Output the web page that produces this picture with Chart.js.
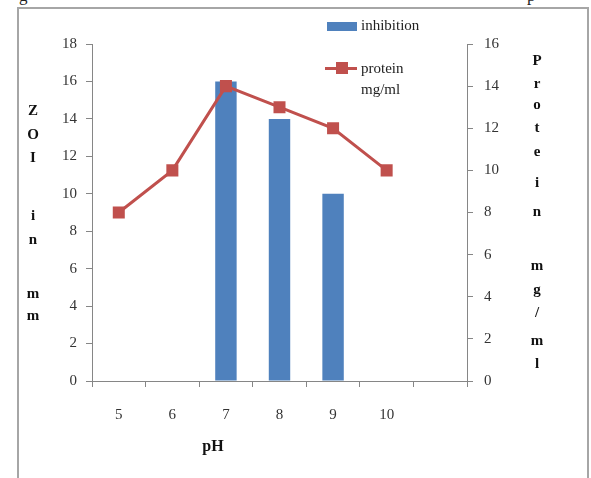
<!DOCTYPE html>
<html>
<head>
<meta charset="utf-8">
<script src="https://cdn.jsdelivr.net/npm/chart.js@4.4.1/dist/chart.umd.min.js"></script>
<style>
    body { margin: 0; background: #fff; }
    #wrap { position: relative; width: 591px; height: 478px; overflow: hidden; font-family: "Liberation Serif", "Times New Roman", serif; }
    #frame { position: absolute; left: 17px; top: 7px; width: 572px; height: 480px; border: 2px solid #a6a6a6; box-sizing: border-box; }
    canvas { position: absolute; left: 0; top: 0; }
    .lbl { position: absolute; font-size: 15px; color: #222; line-height: 1; }
    .ch { position: absolute; width: 20px; margin-left: -10px; text-align: center; font-weight: bold; font-size: 15px; line-height: 1; color: #111; }
</style>
</head>
<body>
<div id="wrap">
    <div id="frame"></div>
    <div class="lbl" style="left:19px; top:-13px; font-size:17px;">g</div>
    <div class="lbl" style="left:527px; top:-13px; font-size:17px;">p</div>
    <canvas id="phChart" width="591" height="478"></canvas>

    <!-- legend -->
    <div style="position:absolute; left:327px; top:22px; width:30px; height:9px; background:#4f81bd;"></div>
    <div class="lbl" style="left:361px; top:18px;">inhibition</div>
    <div style="position:absolute; left:325px; top:67px; width:32px; height:3px; background:#c0504d;"></div>
    <div style="position:absolute; left:336px; top:62px; width:12px; height:12px; background:#c0504d;"></div>
    <div class="lbl" style="left:361px; top:61px;">protein</div>
    <div class="lbl" style="left:361px; top:82px;">mg/ml</div>

    <div class="ch" style="left:213px; top:438px; font-size:16px; width:30px; margin-left:-15px;">pH</div>
</div>

<script>
// data
const phLabels = ['5', '6', '7', '8', '9', '10', ''];
const inhibition = [0, 0, 16, 14, 10, 0, null];   // ZOI in mm (left axis)
const protein = [8, 10, 14, 13, 12, 10, null];     // protein mg/ml (right axis)

// stacked vertical axis titles
const leftTitle = [['Z', 111], ['O', 135], ['I', 158], ['i', 216], ['n', 240], ['m', 294], ['m', 316]];
const rightTitle = [['P', 61], ['r', 84], ['o', 105], ['t', 128], ['e', 152], ['i', 183], ['n', 212],
                    ['m', 266], ['g', 290], ['/', 313], ['m', 341], ['l', 364]];

const wrap = document.getElementById('wrap');
function addColumn(letters, x) {
    letters.forEach(function (l) {
        const d = document.createElement('div');
        d.className = 'ch';
        d.textContent = l[0];
        d.style.left = x + 'px';
        d.style.top = (l[1] - 8) + 'px';
        wrap.appendChild(d);
    });
}
addColumn(leftTitle, 33);
addColumn(rightTitle, 537);

const axisColor = '#868686';
const tickFont = { family: '"Liberation Serif", serif', size: 15 };

const ctx = document.getElementById('phChart').getContext('2d');
new Chart(ctx, {
    data: {
        labels: phLabels,
        datasets: [
            {
                type: 'line',
                label: 'protein mg/ml',
                data: protein,
                yAxisID: 'y1',
                borderColor: '#c0504d',
                backgroundColor: '#c0504d',
                borderWidth: 3,
                pointStyle: 'rect',
                pointRadius: 8.5,
                pointBorderWidth: 0,
                tension: 0,
                order: 1
            },
            {
                type: 'bar',
                label: 'inhibition',
                data: inhibition,
                yAxisID: 'y',
                backgroundColor: '#4f81bd',
                borderWidth: 0,
                barPercentage: 0.4,
                categoryPercentage: 1,
                order: 2
            }
        ]
    },
    options: {
        responsive: false,
        animation: false,
        layout: { padding: { top: 44, left: 0, right: 0, bottom: 0 } },
        plugins: {
            legend: { display: false },
            tooltip: { enabled: false }
        },
        scales: {
            x: {
                offset: true,
                grid: { drawOnChartArea: false, tickLength: 6, color: axisColor, offset: true },
                border: { color: axisColor, width: 1 },
                ticks: { font: tickFont, color: '#333', padding: 19, maxRotation: 0 },
                afterFit: function (s) { s.height = 97; }
            },
            y: {
                position: 'left',
                min: 0,
                max: 18,
                ticks: { stepSize: 2, font: tickFont, color: '#333', padding: 9 },
                grid: { drawOnChartArea: false, tickLength: 6, color: axisColor },
                border: { color: axisColor, width: 1 },
                afterFit: function (s) { s.width = 92; }
            },
            y1: {
                position: 'right',
                min: 0,
                max: 16,
                ticks: { stepSize: 2, font: tickFont, color: '#333', padding: 11 },
                grid: { drawOnChartArea: false, tickLength: 6, color: axisColor },
                border: { color: axisColor, width: 1 },
                afterFit: function (s) { s.width = 124; }
            }
        }
    }
});
</script>
</body>
</html>
